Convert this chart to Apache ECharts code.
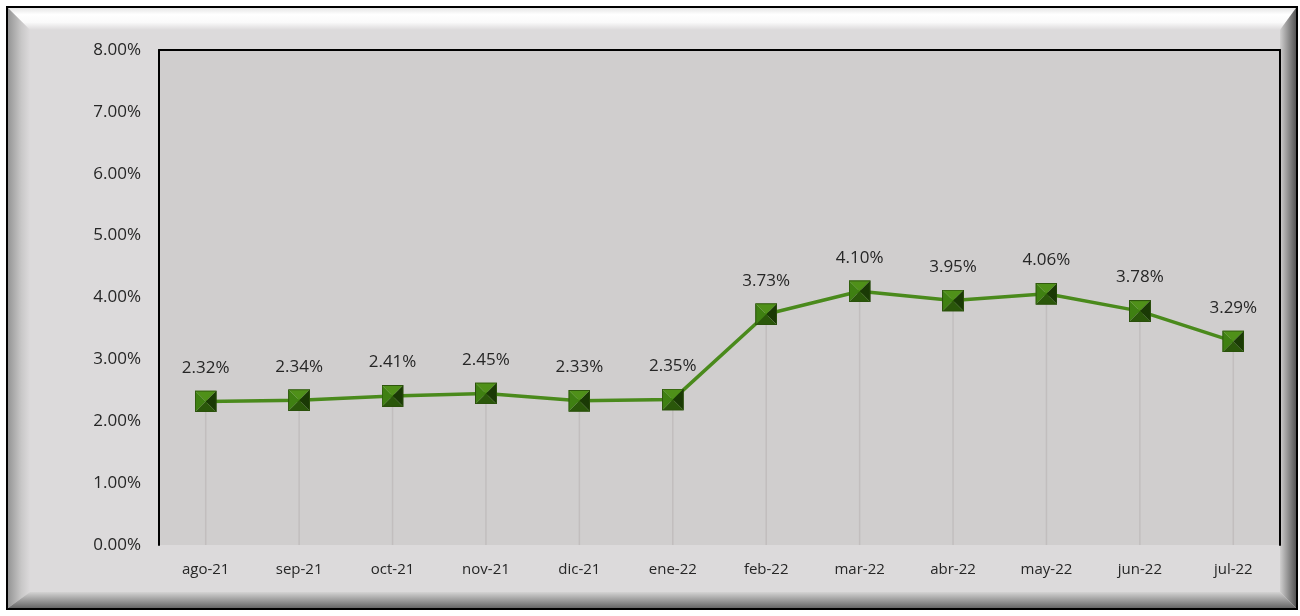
<!DOCTYPE html>
<html>
<head>
<meta charset="utf-8">
<script src="https://cdn.jsdelivr.net/npm/echarts@6/dist/echarts.min.js"></script>
<style>
  html, body { margin: 0; padding: 0; background: #fff; }
  #main { width: 1300px; height: 616px; }
</style>
</head>
<body>
<div id="main"></div>
<script>
const months = ['ago-21', 'sep-21', 'oct-21', 'nov-21', 'dic-21', 'ene-22',
                'feb-22', 'mar-22', 'abr-22', 'may-22', 'jun-22', 'jul-22']
const rates = [2.32, 2.34, 2.41, 2.45, 2.33, 2.35, 3.73, 4.10, 3.95, 4.06, 3.78, 3.29]
const yTicks = [0, 1, 2, 3, 4, 5, 6, 7, 8]

// marcador tipo pirámide (como el de Excel)
const pyramid = '<svg xmlns="http://www.w3.org/2000/svg" width="22" height="22" viewBox="0 0 22 22">' +
  '<polygon points="0,0 22,0 11,11" fill="#4f9019"/>' +
  '<polygon points="0,0 11,11 0,22" fill="#3f8012"/>' +
  '<polygon points="22,0 22,22 11,11" fill="#1a3a05"/>' +
  '<polygon points="0,22 22,22 11,11" fill="#2a570a"/>' +
  '<rect x="0.5" y="0.5" width="21" height="21" fill="none" stroke="#2a4f0c" stroke-width="1"/>' +
  '</svg>'
const markerSymbol = 'image://data:image/svg+xml;charset=utf-8,' + encodeURIComponent(pyramid)

const font = '"Open Sans", "Noto Sans", sans-serif'

let myChart = echarts.init(document.getElementById('main'))

let options = {
    backgroundColor: '#ffffff',
    animation: false,
    textStyle: { fontFamily: font },
    graphic: [
        { type: 'rect', z: -10, shape: { x: 7, y: 7, width: 1290, height: 602 },
          style: { fill: '#dcdadb', stroke: '#000', lineWidth: 2 } },
        // biseles del marco
        { type: 'polygon', z: -9, shape: { points: [[8, 8], [1296, 8], [1280, 30], [30, 30]] },
          style: { fill: new echarts.graphic.LinearGradient(0, 0, 0, 1, [
              { offset: 0, color: '#e6e6e6' }, { offset: 0.3, color: '#ffffff' },
              { offset: 0.65, color: '#fafafa' }, { offset: 1, color: '#dcdadb' }]) } },
        { type: 'polygon', z: -9, shape: { points: [[8, 8], [30, 30], [30, 592], [8, 608]] },
          style: { fill: new echarts.graphic.LinearGradient(0, 0, 1, 0, [
              { offset: 0, color: '#959595' }, { offset: 0.6, color: '#c8c7c7' }, { offset: 1, color: '#dcdadb' }]) } },
        { type: 'polygon', z: -9, shape: { points: [[1296, 8], [1296, 608], [1280, 592], [1280, 30]] },
          style: { fill: new echarts.graphic.LinearGradient(0, 0, 1, 0, [
              { offset: 0, color: '#d0cfcf' }, { offset: 1, color: '#555555' }]) } },
        { type: 'polygon', z: -9, shape: { points: [[8, 608], [1296, 608], [1280, 592], [30, 592]] },
          style: { fill: new echarts.graphic.LinearGradient(0, 0, 0, 1, [
              { offset: 0, color: '#d4d3d3' }, { offset: 1, color: '#666666' }]) } }
    ],
    grid: {
        left: 159, right: 20, top: 50, bottom: 71,
        show: true, backgroundColor: '#d0cece', borderWidth: 0
    },
    xAxis: [{
        type: 'category',
        data: months,
        axisLine: { show: false, onZero: false },
        axisTick: { show: false },
        axisLabel: { color: '#262626', fontSize: 15, margin: 17, fontFamily: font }
    }, {
        type: 'category',
        position: 'top',
        data: months,
        axisLine: { show: true, onZero: false, lineStyle: { color: '#000', width: 2 } },
        axisTick: { show: false },
        axisLabel: { show: false }
    }],
    yAxis: [{
        type: 'value',
        min: yTicks[0],
        max: yTicks[yTicks.length - 1],
        interval: 1,
        axisLine: { show: true, onZero: false, lineStyle: { color: '#000', width: 2 } },
        axisTick: { show: false },
        splitLine: { show: false },
        axisLabel: {
            color: '#262626', fontSize: 17, margin: 18, fontFamily: font,
            formatter: v => v.toFixed(2) + '%'
        }
    }, {
        type: 'value',
        position: 'right',
        min: 0, max: 8, interval: 1,
        axisLine: { show: true, onZero: false, lineStyle: { color: '#000', width: 2 } },
        axisTick: { show: false },
        splitLine: { show: false },
        axisLabel: { show: false }
    }],
    series: [{
        // líneas de caída
        name: 'drop',
        type: 'bar',
        data: rates,
        barWidth: 1.5,
        itemStyle: { color: '#c2bebe' },
        silent: true,
        z: 1
    }, {
        name: 'tasa',
        type: 'line',
        data: rates,
        symbol: markerSymbol,
        symbolSize: 22,
        lineStyle: { color: '#4a8a1c', width: 3.5 },
        itemStyle: { color: '#4a8a1c' },
        z: 3,
        label: {
            show: true,
            position: 'top',
            distance: 14,
            color: '#262626',
            fontSize: 17,
            fontFamily: font,
            formatter: p => p.value.toFixed(2) + '%'
        }
    }]
}

myChart.setOption(options)
</script>
</body>
</html>
